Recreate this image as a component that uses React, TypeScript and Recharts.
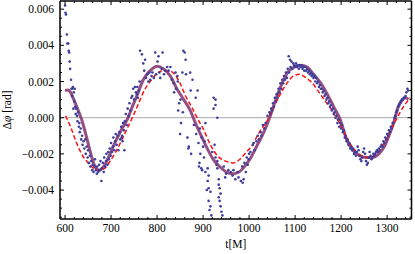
import { ComposedChart, Line, Scatter, XAxis, YAxis, ReferenceLine } from 'recharts'

const FONT = '"Liberation Serif", "Times New Roman", serif'

// [t, Δφ] pairs
const redDashed: [number, number][] = [
  [601, 0.0001], [612, -0.0005], [625, -0.0014], [638, -0.0021], [650, -0.0025], [662, -0.0028],
  [674, -0.0029], [686, -0.0028], [698, -0.0024], [710, -0.0019], [722, -0.0013], [735, -0.0006],
  [748, 0.0001], [760, 0.0008], [772, 0.0015], [785, 0.002], [798, 0.0024], [812, 0.0026],
  [825, 0.0026], [838, 0.0024], [850, 0.0019], [862, 0.0012], [875, 0.0006], [889, -0.0001],
  [900, -0.0006], [916, -0.0015], [931, -0.0021], [949, -0.0024], [966, -0.0025], [980, -0.0023],
  [994, -0.0019], [1008, -0.0015], [1018, -0.001], [1030, -0.0005], [1041, -0.0001], [1054, 0.0006],
  [1068, 0.0013], [1082, 0.0019], [1096, 0.0023], [1110, 0.0024], [1124, 0.0022], [1138, 0.0019],
  [1152, 0.0014], [1166, 0.0009], [1180, 0.0004], [1192, -0.0001], [1204, -0.0007], [1216, -0.0013],
  [1230, -0.0018], [1244, -0.0021], [1258, -0.0022], [1272, -0.0021], [1286, -0.0017], [1300, -0.0011],
  [1314, -0.0004], [1326, 0.0002], [1338, 0.0007], [1350, 0.0011],
]

const purpleFit: [number, number][] = [
  [600, 0.0015], [606, 0.00153], [612, 0.0014], [619, 0.001], [627, 0.0005], [636, -0.0001],
  [646, -0.001], [656, -0.002], [665, -0.0027], [674, -0.0029], [684, -0.0027], [696, -0.0021],
  [710, -0.0013], [724, -0.0006], [737, 0.0], [746, 0.0006], [756, 0.0012], [770, 0.0021],
  [785, 0.0026], [800, 0.00285], [814, 0.0027], [829, 0.0023], [843, 0.0016], [858, 0.001],
  [872, 0.0004], [885, -0.0004], [896, -0.001], [909, -0.0017], [922, -0.0023], [936, -0.0027],
  [950, -0.003], [964, -0.0031], [978, -0.003], [990, -0.0027], [1004, -0.0022], [1018, -0.0015],
  [1032, -0.0008], [1046, 0.0001], [1058, 0.001], [1070, 0.0018], [1084, 0.0025], [1098, 0.0028],
  [1112, 0.0029], [1126, 0.0028], [1140, 0.0024], [1156, 0.0019], [1170, 0.0013], [1184, 0.0006],
  [1198, -0.0001], [1212, -0.0012], [1226, -0.0018], [1240, -0.0021], [1254, -0.0022], [1268, -0.0022],
  [1282, -0.002], [1294, -0.0016], [1304, -0.001], [1314, -0.0003], [1324, 0.0006], [1334, 0.001],
  [1340, 0.0011], [1346, 0.001],
]

const measured: [number, number][] = [
  // start transient
  [600, 0.0062], [601, 0.0058], [602, 0.0057], [604, 0.0046], [605, 0.0041], [607, 0.0041], [608, 0.0037],
  [609, 0.0036], [610, 0.0031], [611, 0.0027], [613, 0.0021], [614, 0.0016], [615, 0.0012], [616, 0.0016],
  [617, 0.0017], [618, 0.0005], [619, 0.0014], [620, 0.0009], [621, 0.0016], [622, 0.0006], [623, 0.0002],
  [624, 0.0005], [626, 0.0001], [627, -0.0002], [628, 0.0003], [630, -0.0005], [631, -0.0003], [632, -0.0008],
  [634, -0.0006], [635, -0.0012], [637, -0.001], [638, -0.0015], [640, -0.0013],
  // first minimum
  [642, -0.0017], [644, -0.0012], [645, -0.002], [647, -0.0016], [649, -0.0022], [650, -0.0018], [652, -0.0025],
  [654, -0.0021], [655, -0.0027], [657, -0.0024], [659, -0.0029], [660, -0.0026], [662, -0.003], [664, -0.0027],
  [665, -0.0023], [667, -0.0029], [669, -0.0031], [670, -0.0027], [672, -0.003], [674, -0.0026], [675, -0.0029],
  [677, -0.0024], [679, -0.0035], [680, -0.0028], [682, -0.0025], [684, -0.003], [685, -0.0022], [687, -0.0027],
  [689, -0.0024], [690, -0.002], [692, -0.0026], [694, -0.0019], [695, -0.0023], [697, -0.0017], [699, -0.0021],
  [700, -0.0014], [702, -0.0019], [704, -0.0016], [705, -0.0011], [707, -0.0018], [709, -0.0013], [710, -0.0009],
  [712, -0.0015], [714, -0.001], [716, -0.0018], [718, -0.0008], [720, -0.0012], [722, -0.0005], [723, -0.0011],
  [724, -0.001], [725, -0.0013], [726, -0.0003], [728, -0.0007], [729, -0.0018], [730, -0.0002], [732, 0.0002],
  [734, -0.0004], [736, 0.0005], [738, 0.0001], [740, 0.0008], [742, 0.0004], [744, 0.0011],
  // first maximum
  [746, 0.0012], [748, 0.0016], [750, 0.001], [752, 0.0017], [754, 0.0014], [756, 0.0013], [757, 0.0017],
  [758, 0.0011], [760, 0.0015], [762, 0.002], [763, 0.0037], [767, 0.0035], [770, 0.003], [772, 0.0026],
  [774, 0.0032], [776, 0.0022], [779, 0.0024], [781, 0.002], [783, 0.0025], [785, 0.0021], [788, 0.0023],
  [790, 0.0025], [793, 0.0022], [796, 0.0036], [798, 0.0024], [801, 0.0031], [803, 0.0034], [805, 0.0025],
  [807, 0.0022], [810, 0.0027], [812, 0.0036], [815, 0.0024], [818, 0.0026], [822, 0.0028], [825, 0.0026],
  [829, 0.0028], [832, 0.0021], [836, 0.0019], [837, 0.0014], [840, 0.0025], [841, 0.0016], [844, 0.0023],
  [845, 0.002], [846, 0.0004], [848, 0.0008], [850, -0.0009], [851, 0.001], [852, -0.0003], [855, 0.0025],
  [856, 0.0003], [857, 0.0037], [860, 0.0036], [862, 0.0032], [863, 0.0024], [866, -0.0011], [868, -0.0017],
  [869, -0.0016], [872, 0.0025], [873, 0.0015], [874, -0.002], [877, 0.0021], [880, -0.0004], [884, 0.0011],
  [888, 0.0015],
  // noisy second minimum
  [885, -0.0009], [890, -0.0014], [891, -0.0027], [892, -0.0025], [893, -0.0006], [894, -0.002], [896, -0.0028],
  [897, -0.0011], [898, -0.0029], [900, -0.0016], [902, -0.0022], [903, -0.0013], [905, -0.003], [905, -0.0003],
  [908, -0.004], [910, -0.0028], [910, -0.0035], [912, -0.0032], [912, -0.0039], [912, -0.0046], [914, -0.0051],
  [916, -0.0041], [916, -0.0049], [918, -0.0054], [920, -0.0019], [923, 0.0011], [923, 0.0005], [925, -0.0015],
  [927, 0.001], [927, 0.0007], [927, -0.0022], [929, -0.0026], [931, 0.0], [931, -0.0024], [931, -0.0028],
  [934, -0.0034], [934, -0.0037], [934, -0.0044], [936, -0.0039], [936, -0.0046], [938, -0.0042], [938, -0.0049],
  [940, -0.0052], [942, -0.0054], [945, -0.0027], [948, -0.0033], [950, -0.0031], [955, -0.0029], [960, -0.003],
  [964, -0.0032], [966, -0.0029], [970, -0.0034], [975, -0.003], [977, -0.0033], [982, -0.0035], [985, -0.0027],
  [986, -0.0036], [988, -0.0034], [990, -0.0025], [993, -0.003], [995, -0.0022], [997, -0.0026], [999, -0.0023],
  [1000, -0.002], [1003, -0.0019], [1008, -0.0015], [1010, -0.0014], [1012, -0.0018], [1016, -0.0013],
  [1019, -0.001], [1021, -0.0012], [1025, -0.0008], [1027, -0.001], [1030, -0.0004], [1033, -0.0006],
  [1036, -0.0003], [1040, 0.0001], [1044, 0.0003],
  // second maximum
  [1046, 0.0002], [1048, 0.0005], [1050, 0.0004], [1052, 0.0008], [1054, 0.0006], [1056, 0.0011], [1058, 0.0009],
  [1060, 0.0013], [1062, 0.0011], [1064, 0.0016], [1066, 0.0014], [1068, 0.0019], [1070, 0.0016], [1072, 0.0021],
  [1074, 0.0019], [1076, 0.0023], [1078, 0.0021], [1080, 0.0025], [1082, 0.0022], [1084, 0.0027], [1086, 0.0034],
  [1087, 0.0025], [1089, 0.0032], [1090, 0.0028], [1092, 0.0031], [1094, 0.0027], [1096, 0.003], [1098, 0.0029],
  [1100, 0.0028], [1102, 0.003], [1104, 0.0028], [1106, 0.0029], [1108, 0.0027], [1110, 0.0029], [1112, 0.0028],
  [1114, 0.0029], [1116, 0.0027], [1118, 0.0028], [1120, 0.0026], [1122, 0.0028], [1124, 0.0026], [1126, 0.0027],
  [1128, 0.0025], [1130, 0.0026], [1132, 0.0024], [1134, 0.0025], [1136, 0.0023], [1138, 0.0024], [1140, 0.0022],
  [1142, 0.0023], [1144, 0.002], [1146, 0.0022], [1148, 0.0019], [1150, 0.002], [1152, 0.0017], [1154, 0.0018],
  [1156, 0.0016], [1158, 0.0016], [1160, 0.0014], [1162, 0.0015], [1164, 0.0012], [1166, 0.0013], [1168, 0.001],
  [1170, 0.0011], [1172, 0.0008], [1174, 0.0009], [1176, 0.0006], [1178, 0.0007], [1180, 0.0004], [1182, 0.0005],
  [1184, 0.0002], [1186, 0.0003], [1188, 0.0], [1190, 0.0001], [1192, -0.0003], [1194, -0.0001], [1196, -0.0005],
  [1198, -0.0003],
  // third minimum and end
  [1200, -0.0006], [1202, -0.0004], [1204, -0.0008], [1206, -0.0007], [1208, -0.0011], [1210, -0.001],
  [1212, -0.0013], [1214, -0.0012], [1216, -0.0015], [1218, -0.0014], [1220, -0.0017], [1222, -0.0016],
  [1224, -0.0018], [1226, -0.0017], [1228, -0.002], [1230, -0.0019], [1232, -0.0021], [1234, -0.0019],
  [1236, -0.0016], [1238, -0.0018], [1240, -0.0021], [1242, -0.0023], [1244, -0.0024], [1246, -0.0022],
  [1248, -0.0019], [1250, -0.0017], [1252, -0.002], [1254, -0.0024], [1256, -0.0026], [1258, -0.0025],
  [1260, -0.0022], [1262, -0.0019], [1264, -0.0021], [1266, -0.0023], [1268, -0.0022], [1270, -0.002],
  [1272, -0.0021], [1274, -0.002], [1276, -0.0019], [1278, -0.0018], [1280, -0.0019], [1282, -0.0017],
  [1284, -0.0018], [1286, -0.0016], [1288, -0.0015], [1290, -0.0016], [1292, -0.0013], [1294, -0.0014],
  [1296, -0.0011], [1298, -0.0012], [1300, -0.0009], [1302, -0.001], [1304, -0.0007], [1306, -0.0008],
  [1308, -0.0005], [1310, -0.0006], [1312, -0.0003], [1314, -0.0003], [1316, 0.0], [1318, 0.0001],
  [1320, 0.0003], [1322, 0.0004], [1324, 0.0006], [1326, 0.0007], [1328, 0.0008], [1330, 0.0009],
  [1332, 0.001], [1334, 0.001], [1336, 0.0011], [1338, 0.0011], [1340, 0.0012], [1342, 0.0014],
  [1344, 0.0016], [1346, 0.0015],
]

const xMajor = [600, 700, 800, 900, 1000, 1100, 1200, 1300]
const xTicks = [
  600, 620, 640, 660, 680, 700, 720, 740, 760, 780, 800, 820, 840, 860, 880, 900, 920, 940, 960, 980,
  1000, 1020, 1040, 1060, 1080, 1100, 1120, 1140, 1160, 1180, 1200, 1220, 1240, 1260, 1280, 1300, 1320, 1340,
]
const yMajor = [-0.004, -0.002, 0, 0.002, 0.004, 0.006]
const yTicks = [
  -0.0055, -0.005, -0.0045, -0.004, -0.0035, -0.003, -0.0025, -0.002, -0.0015, -0.001, -0.0005, 0,
  0.0005, 0.001, 0.0015, 0.002, 0.0025, 0.003, 0.0035, 0.004, 0.0045, 0.005, 0.0055, 0.006,
]

const xDomain: [number, number] = [589, 1353]
const yDomain: [number, number] = [-0.0056, 0.00645]

const toPts = (arr: [number, number][]) => arr.map(([t, v]) => ({ t, v }))
const redData = toPts(redDashed)
const purpleData = toPts(purpleFit)
const dotData = toPts(measured)

const fmtY = (v: number) => (v < 0 ? '\u2212' : '') + Math.abs(v).toFixed(3)

type TickP = { x: number; y: number; payload: { value: number } }

function BottomTick({ x, y, payload }: TickP) {
  const major = xMajor.includes(payload.value)
  return (
    <g>
      <line x1={x} x2={x} y1={y} y2={y - (major ? 4 : 2)} stroke="#000" />
      {major && (
        <text x={x} y={y + 12.5} textAnchor="middle" fontSize={11.5} fontFamily={FONT} fill="#000">
          {payload.value}
        </text>
      )}
    </g>
  )
}

function TopTick({ x, y, payload }: TickP) {
  const major = xMajor.includes(payload.value)
  return <line x1={x} x2={x} y1={y} y2={y + (major ? 4 : 2)} stroke="#000" />
}

function LeftTick({ x, y, payload }: TickP) {
  const major = yMajor.includes(payload.value)
  return (
    <g>
      <line x1={x} x2={x + (major ? 4 : 2)} y1={y} y2={y} stroke="#000" />
      {major && (
        <text x={x - 6} y={y} dy="0.35em" textAnchor="end" fontSize={11.5} fontFamily={FONT} fill="#000">
          {fmtY(payload.value)}
        </text>
      )}
    </g>
  )
}

function RightTick({ x, y, payload }: TickP) {
  const major = yMajor.includes(payload.value)
  return <line x1={x} x2={x - (major ? 4 : 2)} y1={y} y2={y} stroke="#000" />
}

const frame = { stroke: '#000', strokeWidth: 1.5 }

export default function App() {
  return (
    <div style={{ position: 'absolute', left: 0, top: 0, width: 415, height: 254, background: '#fff' }}>
      <ComposedChart width={415} height={254} margin={{ top: 0, right: 2.5, bottom: 0, left: 0 }}>
        <XAxis
          dataKey="t"
          type="number"
          domain={xDomain}
          allowDataOverflow
          ticks={xTicks}
          interval={0}
          tickSize={0}
          tickMargin={0}
          tickLine={false}
          axisLine={frame}
          tick={BottomTick as any}
          height={35}
          label={{
            content: ({ viewBox }: any) => (
              <text x={viewBox.x + viewBox.width / 2} y={viewBox.y + viewBox.height - 6} textAnchor="middle" fontSize={11.5} fontFamily={FONT} fill="#000">
                t[M]
              </text>
            ),
          }}
        />
        <XAxis
          xAxisId="top"
          orientation="top"
          dataKey="t"
          type="number"
          domain={xDomain}
          allowDataOverflow
          ticks={xTicks}
          interval={0}
          tickSize={0}
          tickMargin={0}
          tickLine={false}
          axisLine={frame}
          tick={TopTick as any}
          height={1}
        />
        <YAxis
          type="number"
          domain={yDomain}
          allowDataOverflow
          ticks={yTicks}
          interval={0}
          tickSize={0}
          tickMargin={0}
          tickLine={false}
          axisLine={frame}
          tick={LeftTick as any}
          width={60}
          label={{
            content: ({ viewBox }: any) => (
              <text
                transform={`translate(${viewBox.x + 10.5}, ${viewBox.y + viewBox.height / 2}) rotate(-90)`}
                textAnchor="middle"
                fontSize={11.5}
                fontFamily={FONT}
                fill="#000"
              >
                Δ<tspan fontStyle="italic">φ</tspan> [rad]
              </text>
            ),
          }}
        />
        <YAxis
          yAxisId="right"
          orientation="right"
          type="number"
          domain={yDomain}
          allowDataOverflow
          ticks={yTicks}
          interval={0}
          tickSize={0}
          tickMargin={0}
          tickLine={false}
          axisLine={frame}
          tick={RightTick as any}
          width={1}
        />
        <ReferenceLine y={0} stroke="#a8a8a8" strokeWidth={1} />
        <Scatter
          data={dotData}
          dataKey="v"
          isAnimationActive={false}
          shape={(p: any) => <circle cx={p.cx} cy={p.cy} r={1.3} fill="#3d3d9c" />}
        />
        <Line
          data={purpleData}
          dataKey="v"
          type="monotone"
          stroke="#8a3c74"
          strokeOpacity={0.9}
          strokeWidth={3}
          dot={false}
          isAnimationActive={false}
        />
        <Line
          data={redData}
          dataKey="v"
          type="monotone"
          stroke="#ff1010"
          strokeWidth={1.5}
          strokeDasharray="4.5 2.5"
          dot={false}
          isAnimationActive={false}
        />
      </ComposedChart>
    </div>
  )
}
